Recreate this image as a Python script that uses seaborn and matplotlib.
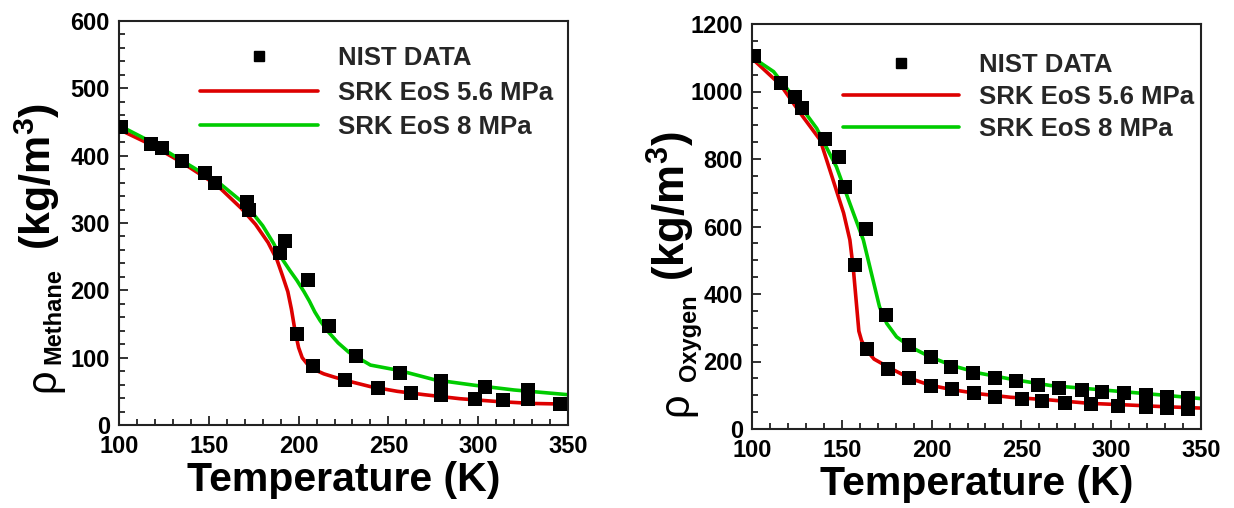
import matplotlib
matplotlib.use("Agg")
import matplotlib.pyplot as plt
from matplotlib.font_manager import FontProperties
from matplotlib.lines import Line2D
from matplotlib.ticker import MultipleLocator
import seaborn as sns

# ---- Methane: NIST reference points ----
methane_nist_T = [101, 118, 124, 135, 148, 153.5, 171.5, 172.5, 189.5, 192.5, 205, 199,
                  208, 217, 226, 232, 244, 256.5, 262.5, 279.5, 279.5, 298, 304, 314,
                  327.5, 327.5, 345.5]
methane_nist_rho = [443, 417, 412, 392, 375, 360, 331, 319, 256, 273, 215, 135,
                    88, 147, 67, 103, 55, 77, 48, 65, 44, 39, 57, 37,
                    52, 38, 31]

# ---- Methane: SRK EoS curves ----
methane_T_56 = [100, 118, 135, 150, 157, 168, 176, 183, 188, 191, 194, 196, 198, 200,
                202, 205, 209, 214, 220, 228, 240, 255, 270, 290, 310, 330, 350]
methane_rho_56 = [439, 416, 390, 364, 350, 322, 298, 271, 245, 222, 198, 172, 140, 115,
                  100, 90, 82, 76, 71, 65, 57, 50, 45, 39, 35, 32, 31]
methane_T_8 = [100, 119, 136, 156, 171, 180, 186, 190, 195, 199, 203, 206, 209, 212,
               216, 222, 228, 240, 256, 276, 298, 320, 350]
methane_rho_8 = [445, 419, 391, 359, 326, 296, 270, 250, 230, 215, 198, 184, 168, 155,
                 140, 122, 108, 89, 81, 67, 59, 52, 45]

# ---- Oxygen: NIST reference points ----
oxygen_nist_T = [101, 116, 124, 128, 140.5, 148.5, 152, 163.5, 157.5, 164, 174.5, 175.5,
                 187.5, 187.5, 199.5, 199.5, 211, 211.5, 223, 223.5, 235.5, 235.5,
                 247, 250.5, 259, 261.5, 271, 274, 283.5, 289, 295, 304, 307,
                 319.5, 319.5, 331, 331, 343, 343]
oxygen_nist_rho = [1105, 1024, 983, 950, 859, 807, 718, 593, 486, 237, 338, 177,
                   249, 150, 212, 128, 185, 118, 167, 108, 150, 94,
                   143, 89, 131, 84, 122, 77, 116, 74, 111, 69, 107,
                   101, 64, 94, 62, 91, 59]

# ---- Oxygen: SRK EoS curves ----
oxygen_T_56 = [100, 116, 127, 138, 145, 151, 154.5, 156.5, 158, 159.5, 161, 164, 168,
               177, 188, 199, 212, 227, 244, 266, 288, 310, 330, 350]
oxygen_rho_56 = [1098, 1019, 935, 856, 740, 640, 560, 470, 380, 290, 262, 232, 207,
                 180, 150, 130, 116, 104, 94, 86, 76, 71, 66, 62]
oxygen_T_8 = [100, 112, 123, 136, 147, 156.5, 162, 166.5, 171, 175, 180.5, 188, 199,
              212, 227, 244, 266, 288, 310, 332, 350]
oxygen_rho_8 = [1102, 1059, 985, 891, 777, 639, 560, 461, 362, 313, 273, 244, 214,
                187, 165, 148, 129, 119, 109, 99, 90]

RED = "#dd0000"
GREEN = "#00cc00"
LABELS = ["NIST DATA", "SRK EoS 5.6 MPa", "SRK EoS 8 MPa"]

sns.set_theme(style="ticks")
plt.rcParams.update({
    "font.family": ["Liberation Sans", "DejaVu Sans"],
    "font.weight": "bold",
    "mathtext.fontset": "custom",
    "mathtext.rm": "Liberation Sans:bold",
    "mathtext.it": "Liberation Sans:bold",
    "mathtext.bf": "Liberation Sans:bold",
    "axes.edgecolor": "#222222",
    "axes.linewidth": 1.5,
    "xtick.color": "#222222",
    "ytick.color": "#222222",
})

W, H = 1234, 508
fig = plt.figure(figsize=(W / 100, H / 100), dpi=100)
ax1 = fig.add_axes([119 / W, 1 - 425 / H, 449 / W, 404 / H])
ax2 = fig.add_axes([752 / W, 1 - 429 / H, 449 / W, 405 / H])

legend_font = FontProperties(family="Liberation Sans", weight="bold", size=18.5)


def draw_panel(ax, nist_T, nist_rho, T56, rho56, T8, rho8):
    sns.lineplot(x=T56, y=rho56, ax=ax, color=RED, lw=2.6, sort=False, zorder=2)
    sns.lineplot(x=T8, y=rho8, ax=ax, color=GREEN, lw=2.6, sort=False, zorder=2)
    sns.scatterplot(x=nist_T, y=nist_rho, ax=ax, marker="s", s=88, color="black",
                    linewidth=0, zorder=3)


draw_panel(ax1, methane_nist_T, methane_nist_rho, methane_T_56, methane_rho_56,
           methane_T_8, methane_rho_8)
draw_panel(ax2, oxygen_nist_T, oxygen_nist_rho, oxygen_T_56, oxygen_rho_56,
           oxygen_T_8, oxygen_rho_8)

ax1.set_xlim(100, 350)
ax1.set_ylim(0, 600)
ax1.yaxis.set_major_locator(MultipleLocator(100))
ax1.yaxis.set_minor_locator(MultipleLocator(20))
ax2.set_xlim(100, 350)
ax2.set_ylim(0, 1200)
ax2.yaxis.set_major_locator(MultipleLocator(200))
ax2.yaxis.set_minor_locator(MultipleLocator(50))

for ax in (ax1, ax2):
    ax.xaxis.set_major_locator(MultipleLocator(50))
    ax.xaxis.set_minor_locator(MultipleLocator(10))
    ax.tick_params(which="both", direction="in", top=False, right=False, width=1.3)
    ax.tick_params(which="major", length=6.5)
    ax.tick_params(which="minor", length=4)
    ax.tick_params(axis="x", which="major", pad=7.5)
    ax.tick_params(axis="y", which="major", pad=6.5)
    for lab in ax.get_xticklabels() + ax.get_yticklabels():
        lab.set_fontsize(17)
        lab.set_fontweight("bold")
        lab.set_color("black")
    for sp in ax.spines.values():
        sp.set_visible(True)
    ax.set_xlabel("Temperature (K)", fontsize=29.5, fontweight="bold", color="black")
    ax.set_ylabel("")

ax1.xaxis.set_label_coords(0.5, -36 / 404)
ax2.xaxis.set_label_coords(0.5, -36 / 405)


def y_title(parts):
    # each part: (text, x_px, y_px, size, weight), rotated like a y-axis title
    for text, px, py, size, weight in parts:
        fig.text(px / W, 1 - py / H, text, rotation=90, ha="center", va="center",
                 fontsize=size, fontweight=weight, color="black",
                 family=["Liberation Sans", "DejaVu Sans"])


y_title([
    ("\u03c1", 43, 380, 30, "normal"),
    ("Methane", 54, 316, 17, "bold"),
    (r"(kg/m$^{3}$)", 37, 176, 31, "bold"),
])
y_title([
    ("\u03c1", 676, 404, 30, "normal"),
    ("Oxygen", 690, 338, 17, "bold"),
    (r"(kg/m$^{3}$)", 671, 206, 31.5, "bold"),
])

handles = [
    Line2D([], [], marker="s", ls="none", color="black", markersize=7.5),
    Line2D([], [], color=RED, lw=2.6),
    Line2D([], [], color=GREEN, lw=2.6),
]
ax1.legend(handles, LABELS, loc="upper left", bbox_to_anchor=(0.18, 0.938),
           frameon=False, prop=legend_font, handlelength=4.6, handletextpad=0.78,
           labelspacing=0.41, borderpad=0, borderaxespad=0)
ax2.legend(handles, LABELS, loc="upper left", bbox_to_anchor=(0.203, 0.928),
           frameon=False, prop=legend_font, handlelength=4.5, handletextpad=0.78,
           labelspacing=0.31, borderpad=0, borderaxespad=0)

fig.savefig("out.png", dpi=100, facecolor="white")
